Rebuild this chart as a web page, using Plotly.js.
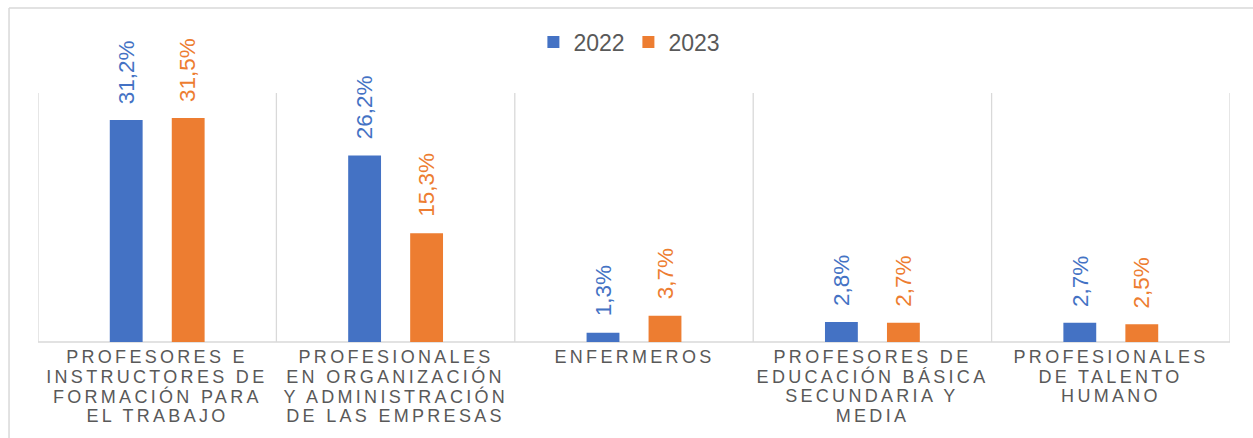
<!DOCTYPE html>
<html>
<head>
<meta charset="utf-8">
<script src="https://cdn.plot.ly/plotly-3.0.1.min.js"></script>
<style>
html,body{margin:0;padding:0;background:#fff;}
#chart{width:1253px;height:438px;}
</style>
</head>
<body>
<div id="chart"></div>
<script>
// ---- data ----
var categories = [
  "PROFESORES E<br>INSTRUCTORES DE<br>FORMACIÓN PARA<br>EL TRABAJO",
  "PROFESIONALES<br>EN ORGANIZACIÓN<br>Y ADMINISTRACIÓN<br>DE LAS EMPRESAS",
  "ENFERMEROS",
  "PROFESORES DE<br>EDUCACIÓN BÁSICA<br>SECUNDARIA Y<br>MEDIA",
  "PROFESIONALES<br>DE TALENTO<br>HUMANO"
];
var seriesNames = ["2022", "2023"];
var values2022 = [31.2, 26.2, 1.3, 2.8, 2.7];
var values2023 = [31.5, 15.3, 3.7, 2.7, 2.5];

// ---- styling ----
var colors = ["#4472C4", "#ED7D31"];
var series = [values2022, values2023];
var xIdx = categories.map(function(_, i){ return i; });

var traces = series.map(function(vals, s){
  return {
    type: "bar",
    name: seriesNames[s],
    x: xIdx,
    y: vals,
    marker: {color: colors[s]},
    hoverinfo: "skip"
  };
});

var annotations = [];
// data labels
series.forEach(function(vals, s){
  vals.forEach(function(v, i){
    annotations.push({
      x: i, y: v, xref: "x", yref: "y",
      xshift: s === 0 ? -31 : 31,
      yshift: 14,
      yanchor: "bottom", xanchor: "center",
      textangle: -90,
      showarrow: false,
      text: v.toFixed(1).replace(".", ",") + "%",
      font: {family: "Liberation Sans, Arial, sans-serif", size: 22.5, color: colors[s]}
    });
  });
});
var nDataLabels = annotations.length;
// category labels (one annotation per line)
categories.forEach(function(c, i){
  c.split("<br>").forEach(function(line, k){
    annotations.push({
      x: i, y: 0, xref: "x", yref: "paper",
      yshift: -15 - k * 19.6,
      yanchor: "middle", xanchor: "center",
      showarrow: false,
      text: line,
      font: {family: "Liberation Sans, Arial, sans-serif", size: 18, color: "#595959"}
    });
  });
});

var shapes = [];
// category separators
for (var b = 0; b <= categories.length; b++) {
  shapes.push({type: "line", xref: "x", yref: "paper", x0: b - 0.5, x1: b - 0.5, y0: 0, y1: 1,
    line: {color: "#D9D9D9", width: 1.3}, layer: "below"});
}
// baseline
shapes.push({type: "line", xref: "paper", yref: "paper", x0: 0, x1: 1, y0: 0, y1: 0,
  line: {color: "#D9D9D9", width: 1.5}, layer: "below"});
// outer frame (left + top)
shapes.push({type: "line", xref: "paper", yref: "paper", x0: -0.0243, x1: -0.0243, y0: -0.4, y1: 1.341,
  line: {color: "#D9D9D9", width: 1.5}});
shapes.push({type: "line", xref: "paper", yref: "paper", x0: -0.0243, x1: 1.03, y0: 1.341, y1: 1.341,
  line: {color: "#D9D9D9", width: 1.5}});

var layout = {
  width: 1253, height: 438,
  margin: {l: 38, r: 23, t: 93, b: 96},
  paper_bgcolor: "#ffffff", plot_bgcolor: "#ffffff",
  barmode: "group",
  bargap: 0.48,
  bargroupgap: 0.47,
  showlegend: true,
  legend: {
    orientation: "h", x: 0.4953, xanchor: "center", y: 1.205, yanchor: "middle",
    font: {family: "Liberation Sans, Arial, sans-serif", size: 23, color: "#595959"},
    itemwidth: 30, entrywidth: 50, bgcolor: "rgba(0,0,0,0)"
  },
  xaxis: {range: [-0.5, categories.length - 0.5], showticklabels: false, showgrid: false,
    zeroline: false, showline: false, ticks: "", fixedrange: true},
  yaxis: {range: [0, 35], visible: false, showgrid: false, zeroline: false, fixedrange: true},
  annotations: annotations,
  shapes: shapes
};

Plotly.newPlot("chart", traces, layout, {displayModeBar: false, staticPlot: true}).then(function(gd){
  var anns = gd.querySelectorAll(".annotation");
  for (var i = nDataLabels; i < anns.length; i++) {
    var t = anns[i].querySelector("text");
    if (t) t.style.letterSpacing = "3.3px";
  }
});
</script>
</body>
</html>
